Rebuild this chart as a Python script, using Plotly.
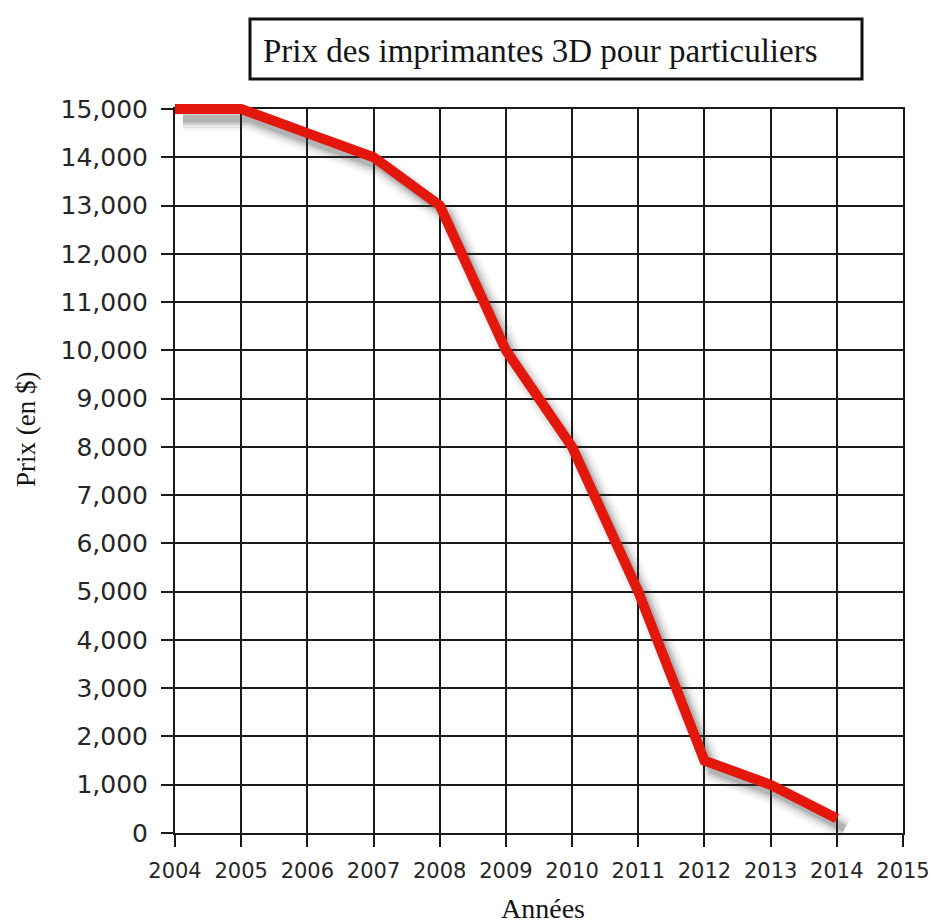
import plotly.graph_objects as go

# Prix moyen d'une imprimante 3D grand public, par année
years = [2004, 2005, 2006, 2007, 2008, 2009, 2010, 2011, 2012, 2013, 2014]
prices = [15000, 15000, 14500, 14000, 13000, 10000, 8000, 5000, 1500, 1000, 300]

x_ticks = list(range(2004, 2016))
y_ticks = list(range(0, 15001, 1000))
y_tick_labels = [f"{v:,}" for v in y_ticks]

TITLE = "Prix des imprimantes 3D pour particuliers"
X_TITLE = "Années"
Y_TITLE = "Prix (en $)"

# ---- geometry (pixels) ----
FIG_W, FIG_H = 932, 924
PLOT_L, PLOT_R, PLOT_T, PLOT_B = 175, 903, 109, 833
PAD = 16  # room around the grid so the thick line is not clipped

ml, mr = PLOT_L - PAD, FIG_W - PLOT_R - PAD
mt, mb = PLOT_T - PAD, FIG_H - PLOT_B - PAD
W, H = FIG_W - ml - mr, FIG_H - mt - mb

X0, X1 = 2004, 2015
Y0, Y1 = 0, 15000
ppx = (PLOT_R - PLOT_L) / (X1 - X0)
ppy = (PLOT_B - PLOT_T) / (Y1 - Y0)


def paper_x(px):
    return (px - ml) / W


def paper_y(py):
    return 1 - (py - mt) / H


def overlay_ranges(dx=0.0, dy=0.0):
    """Ranges for a full-paper overlay sharing the grid's scale, shifted by (dx, dy) px."""
    xr = [X0 - (PAD + dx) / ppx, X1 + (PAD - dx) / ppx]
    yr = [Y0 - (PAD - dy) / ppy, Y1 + (PAD + dy) / ppy]
    return xr, yr


INK = "#1a1a1a"
RED = "#e3170c"
tick_font = dict(family="DejaVu Sans", color="#262626")
serif = "Liberation Serif"

fig = go.Figure()

# soft drop shadow under the price line (stacked translucent strokes)
SH_DX, SH_DY = 8, 10
for w, a in [(24, 0.05), (18, 0.08), (12, 0.14), (7, 0.18)]:
    fig.add_trace(go.Scatter(
        x=years, y=prices, mode="lines",
        line=dict(color=f"rgba(60,60,60,{a})", width=w),
        xaxis="x2", yaxis="y2", hoverinfo="skip", showlegend=False,
    ))

# price line
fig.add_trace(go.Scatter(
    x=years, y=prices, mode="lines",
    line=dict(color=RED, width=10),
    xaxis="x3", yaxis="y3", showlegend=False,
    hovertemplate="%{x}: %{y:,} $<extra></extra>",
))

# empty trace to hold the gridded axes
fig.add_trace(go.Scatter(x=[], y=[], xaxis="x", yaxis="y", showlegend=False))

sh_xr, sh_yr = overlay_ranges(SH_DX, SH_DY)
ln_xr, ln_yr = overlay_ranges()

axis_common = dict(
    showgrid=True, gridcolor=INK, gridwidth=2,
    showline=True, mirror=True, linecolor=INK, linewidth=2,
    ticks="outside", ticklen=12, tickwidth=2, tickcolor=INK,
    zeroline=False, fixedrange=True, automargin=False,
)
hidden_axis = dict(domain=[0, 1], visible=False, fixedrange=True, automargin=False)

fig.update_layout(
    template="none",
    width=FIG_W, height=FIG_H, autosize=False,
    margin=dict(l=ml, r=mr, t=mt, b=mb, pad=0, autoexpand=False),
    paper_bgcolor="white", plot_bgcolor="rgba(0,0,0,0)",
    showlegend=False,
    xaxis=dict(
        domain=[paper_x(PLOT_L), paper_x(PLOT_R)], range=[X0, X1],
        tickmode="array", tickvals=x_ticks, ticktext=[str(v) for v in x_ticks],
        tickfont=dict(size=21, **tick_font), ticklabelstandoff=6,
        anchor="y", **axis_common,
    ),
    yaxis=dict(
        domain=[paper_y(PLOT_B), paper_y(PLOT_T)], range=[Y0, Y1],
        tickmode="array", tickvals=y_ticks, ticktext=y_tick_labels,
        tickfont=dict(size=25, **tick_font), ticklabelstandoff=8,
        anchor="x", **axis_common,
    ),
    xaxis2=dict(range=sh_xr, anchor="y2", **hidden_axis),
    yaxis2=dict(range=sh_yr, anchor="x2", **hidden_axis),
    xaxis3=dict(range=ln_xr, anchor="y3", **hidden_axis),
    yaxis3=dict(range=ln_yr, anchor="x3", **hidden_axis),
)

# boxed chart title
fig.add_shape(
    type="rect", xref="paper", yref="paper",
    x0=paper_x(250), x1=paper_x(862), y0=paper_y(79), y1=paper_y(19),
    line=dict(color="#111111", width=3), fillcolor="white", layer="above",
)
fig.add_annotation(
    text=TITLE, xref="paper", yref="paper",
    x=paper_x(261), y=paper_y(51), xanchor="left", yanchor="middle",
    showarrow=False, font=dict(family=serif, size=33, color="#151515"),
)

# axis titles
fig.add_annotation(
    text=Y_TITLE, xref="paper", yref="paper", textangle=-90,
    x=paper_x(26), y=paper_y(430), xanchor="center", yanchor="middle",
    showarrow=False, font=dict(family=serif, size=27, color="#151515"),
)
fig.add_annotation(
    text=X_TITLE, xref="paper", yref="paper",
    x=paper_x(543), y=paper_y(908), xanchor="center", yanchor="middle",
    showarrow=False, font=dict(family=serif, size=28, color="#151515"),
)

fig.write_html("out.html")
